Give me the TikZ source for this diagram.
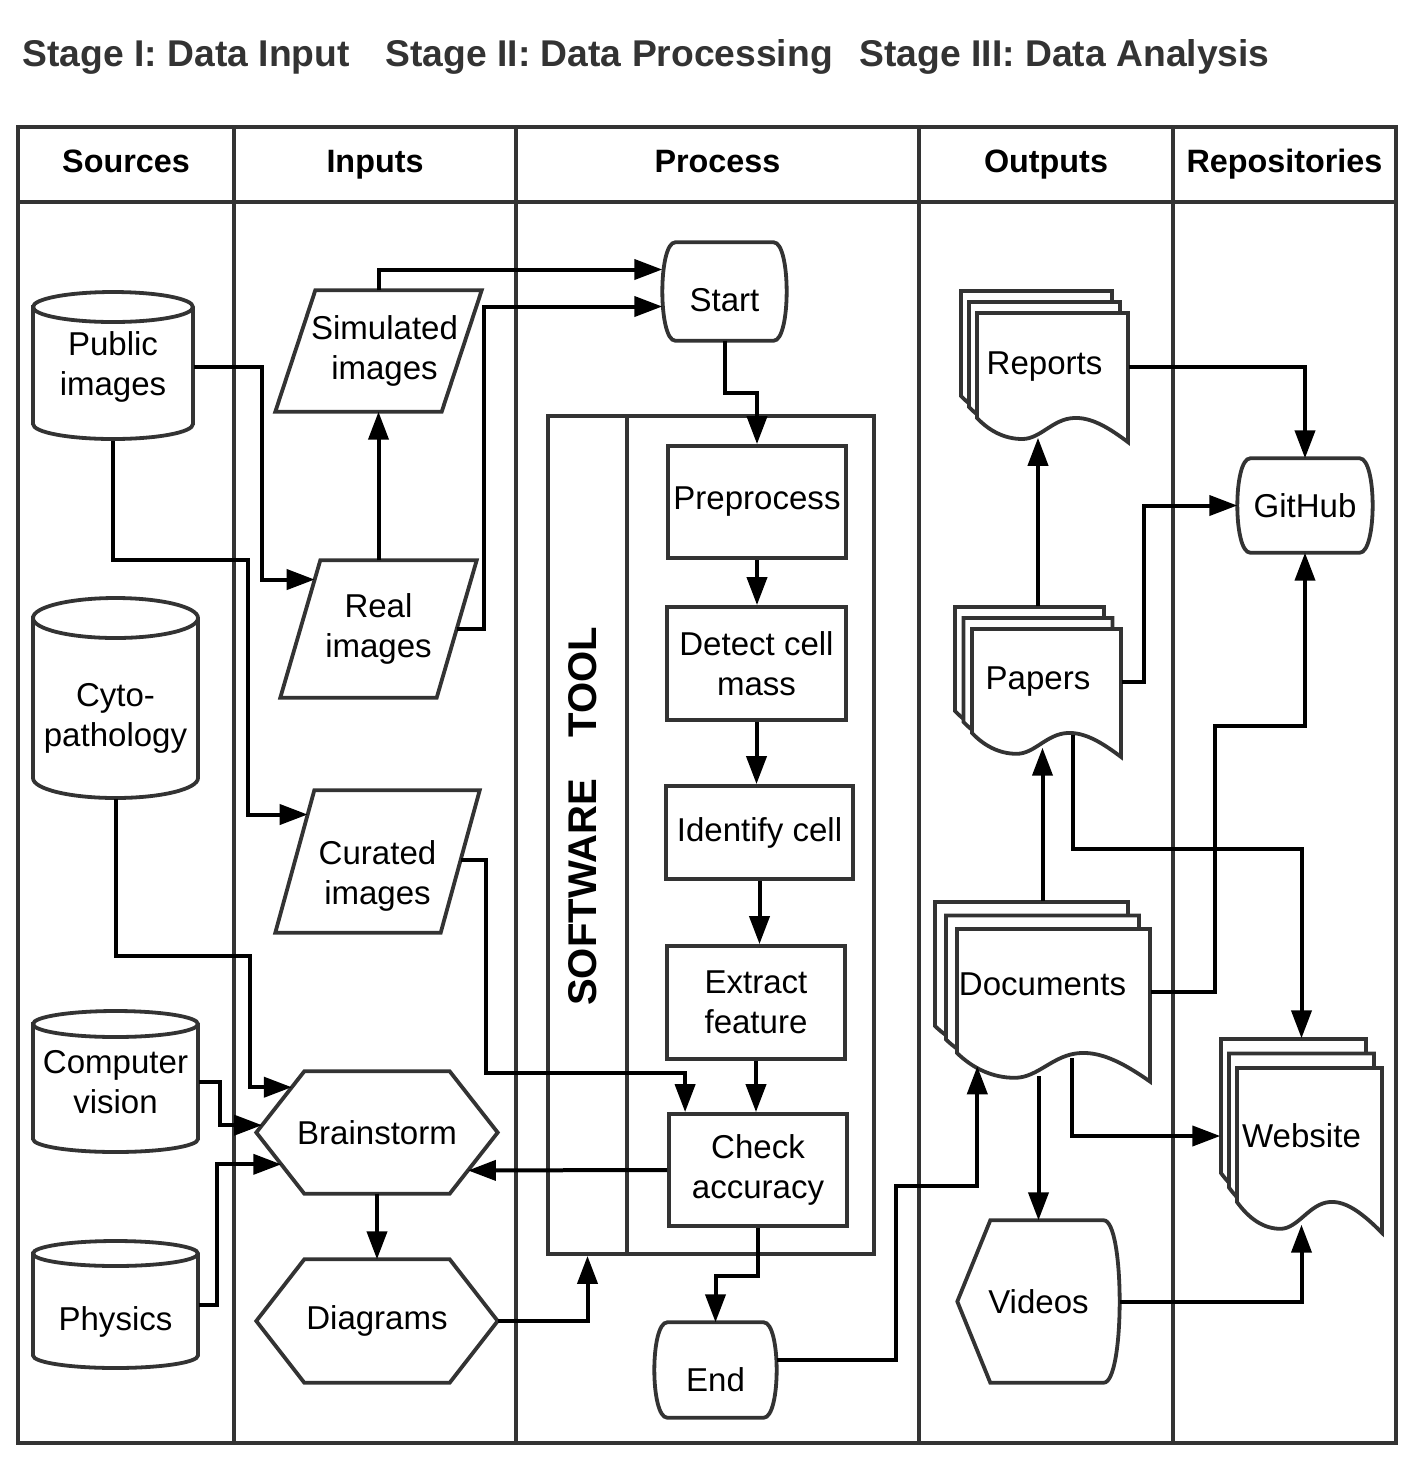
\documentclass[tikz,border=0pt]{standalone}
\usepackage{fontspec}
\setmainfont{Liberation Sans}
\usetikzlibrary{calc,arrows.meta}

\tikzset{
  outline/.style={draw=black!80, line width=0.38mm},
  lane/.style={draw=black!80, line width=0.34mm},
  txt/.style={inner sep=0pt, align=center, font=\fontsize{9.4}{11.4}\selectfont},
  box/.style={txt, outline, fill=white},
  arrow/.style={line width=0.4mm, -{Triangle[length=2.8mm,width=2mm]}},
  colhead/.style={anchor=base, inner sep=0pt, font=\fontsize{9.2}{11}\selectfont\bfseries},
  stage/.style={anchor=base west, inner sep=0pt, text=black!80, font=\fontsize{10.6}{12}\selectfont\bfseries},
  textdrop/.style={text height=#1, text depth=0pt},
}

% database drum: left x, top y, width, bottom y, cap radius
\newcommand{\drum}[5]{%
  \filldraw[outline, fill=white] (#1,{#2+#5}) -- (#1,{#4-#5})
    arc[start angle=180, end angle=360, x radius={#3*0.05mm}, y radius={#5*0.1mm}]
    -- ({#1+#3},{#2+#5})
    arc[start angle=0, end angle=180, x radius={#3*0.05mm}, y radius={#5*0.1mm}] -- cycle;
  \draw[outline] (#1,{#2+#5}) arc[start angle=180, end angle=360, x radius={#3*0.05mm}, y radius={#5*0.1mm}];}

% one sheet with wavy foot: top-left x, top-left y, width, side height
\newcommand{\docsheet}[4]{%
  \filldraw[outline, fill=white] (#1,#2) -- ++(#3,0) -- ++(0,{1.23*#4})
    .. controls ({#1+0.88*#3},{#2+1.1*#4}) and ({#1+0.76*#3},{#2+0.99*#4}) .. ({#1+0.64*#3},{#2+#4})
    .. controls ({#1+0.5*#3},{#2+1.01*#4}) and ({#1+0.42*#3},{#2+1.2*#4}) .. ({#1+0.3*#3},{#2+1.2*#4})
    .. controls ({#1+0.18*#3},{#2+1.2*#4}) and ({#1+0.08*#3},{#2+1.12*#4}) .. (#1,{#2+#4}) -- cycle;}

% three stacked sheets: front x, front y, width, side height, dx, dy
\newcommand{\docstack}[6]{%
  \docsheet{#1-2*#5}{#2-2*#6}{#3}{#4}
  \docsheet{#1-#5}{#2-#6}{#3}{#4}
  \docsheet{#1}{#2}{#3}{#4}}

% outlines drawn round named nodes
\newcommand{\slantshape}[2]{%
  \draw[outline] ([xshift=#2]#1.north west) -- (#1.north east)
    -- ([xshift=-#2]#1.south east) -- (#1.south west) -- cycle;}
\newcommand{\hexshape}[1]{%
  \draw[outline] (#1.west) -- ([xshift=4.8mm]#1.north west) -- ([xshift=-4.8mm]#1.north east)
    -- (#1.east) -- ([xshift=-4.8mm]#1.south east) -- ([xshift=4.8mm]#1.south west) -- cycle;}
\newcommand{\termshape}[1]{%
  \draw[outline] ([xshift=1.3mm]#1.north west) -- ([xshift=-1.3mm]#1.north east)
    .. controls ([xshift=0.43mm]#1.north east) and ([xshift=0.43mm]#1.south east) .. ([xshift=-1.3mm]#1.south east)
    -- ([xshift=1.3mm]#1.south west)
    .. controls ([xshift=-0.43mm]#1.south west) and ([xshift=-0.43mm]#1.north west) .. ([xshift=1.3mm]#1.north west) -- cycle;}
\newcommand{\screenshape}[1]{%
  \draw[outline] (#1.west) -- ([xshift=3.3mm]#1.north west) -- ([xshift=-1.6mm]#1.north east)
    .. controls ([xshift=0.53mm]#1.north east) and ([xshift=0.53mm]#1.south east) .. ([xshift=-1.6mm]#1.south east)
    -- ([xshift=3.3mm]#1.south west) -- cycle;}

\begin{document}
\begin{tikzpicture}[x=0.1mm, y=-0.1mm]
  \useasboundingbox (0,0) rectangle (1409,1467);

  % --- Stage titles ---
  \node[stage] (st1) at (22,66) {Stage I: Data Input};
  \node[stage] (st2) at (385,66) {Stage II: Data Processing};
  \node[stage] (st3) at (859,66) {Stage III: Data Analysis};

  % --- Frame and lanes ---
  \draw[lane] (18,127) rectangle (1396,1443);
  \draw[lane] (18,202) -- (1396,202);
  \foreach \x in {234,516,919,1173}
    \draw[lane] (\x,127) -- (\x,1443);

  % --- Column heads ---
  \node[colhead] (hsrc) at (126,172) {Sources};
  \node[colhead] (hinp) at (375,172) {Inputs};
  \node[colhead] (hpro) at (717.5,172) {Process};
  \node[colhead] (hout) at (1046,172) {Outputs};
  \node[colhead] (hrep) at (1284.5,172) {Repositories};

  % --- Sources ---
  \drum{33}{292}{160}{439}{15}
  \node[txt, minimum width=16mm, minimum height=14.7mm] (pub) at (113,367) {Public\\images};
  \drum{33}{598}{165}{798}{20}
  \node[txt, minimum width=16.5mm, minimum height=16mm] (cyto) at (115.5,718) {Cyto-\\pathology};
  \drum{33}{1011}{165}{1152}{13}
  \node[txt, minimum width=16.5mm, minimum height=14.1mm] (cv) at (115.5,1082) {Computer\\vision};
  \drum{33}{1241}{165}{1368}{12.5}
  \node[txt, minimum width=16.5mm, minimum height=9.2mm] (phys) at (115.5,1322) {Physics};

  % --- Inputs ---
  \node[txt, minimum width=20.5mm, minimum height=12mm] (sim) at (378.5,351) {};
  \node[txt] (simlbl) at ($(sim)+(6,0)$) {Simulated\\images};
  \slantshape{sim}{4mm}
  \node[txt, minimum width=19.5mm, minimum height=13.6mm] (real) at (378.5,629) {Real\\images};
  \slantshape{real}{4mm}
  \node[txt, minimum width=20.3mm, minimum height=14.1mm] (cur) at (377.5,861.5) {};
  \node[txt] (curlbl) at ($(cur)+(0,14)$) {Curated\\images};
  \slantshape{cur}{3.9mm}
  \node[txt, minimum width=24mm, minimum height=12.1mm] (brain) at (377,1132.5) {Brainstorm};
  \hexshape{brain}
  \node[txt, minimum width=24mm, minimum height=12.2mm] (diag) at (377,1321) {Diagrams};
  \hexshape{diag}

  % --- Process ---
  \node[txt, outline, minimum width=7.9mm, minimum height=83.8mm] (swlane) at (587.5,835) {};
  \node[txt, outline, minimum width=32.6mm, minimum height=83.8mm] (swtool) at (711,835) {};
  \node[rotate=90, inner sep=0pt, font=\fontsize{11.4}{13}\selectfont\bfseries] (swname) at (583,816.5) {SOFTWARE\hspace{4.1mm}TOOL};
  \node[txt, textdrop=4mm, minimum width=12.3mm, minimum height=9.7mm] (start) at (724.5,291.5) {Start};
  \termshape{start}
  \node[box, minimum width=17.8mm, minimum height=11.2mm] (pre) at (757,502) {Preprocess};
  \node[box, minimum width=17.9mm, minimum height=11.3mm] (det) at (756.5,663.5) {Detect cell\\mass};
  \node[box, minimum width=18.7mm, minimum height=9.3mm] (ident) at (759.5,832.5) {Identify cell};
  \node[box, minimum width=17.8mm, minimum height=11.3mm] (ext) at (756,1002.5) {Extract\\feature};
  \node[box, minimum width=17.8mm, minimum height=11.2mm] (check) at (758,1170) {Check\\accuracy};
  \node[txt, textdrop=4.2mm, minimum width=12.1mm, minimum height=9.4mm] (end) at (715.5,1370) {End};
  \termshape{end}

  % --- Outputs ---
  \docstack{977}{313}{151}{105}{8}{11}
  \node[txt, minimum width=16.7mm, minimum height=15.1mm] (rep) at (1044.5,366.6) {Reports};
  \docstack{972}{629}{149}{104}{8.5}{11}
  \node[txt, minimum width=16.6mm, minimum height=15mm] (pap) at (1038,682) {Papers};
  \docstack{957}{929}{193}{124}{11}{13.5}
  \node[txt, text height=2.4mm, text depth=1.6mm, minimum width=21.5mm, minimum height=17.95mm] (docs) at (1042.5,991.8) {Documents};
  \node[txt, minimum width=16.1mm, minimum height=16.1mm] (vid) at (1038.5,1301.5) {Videos};
  \screenshape{vid}

  % --- Repositories ---
  \node[txt, minimum width=13.4mm, minimum height=9.3mm] (git) at (1305,505.5) {GitHub};
  \termshape{git}
  \docstack{1237}{1068}{145}{134}{8}{14.5}
  \node[txt, minimum width=16.1mm, minimum height=19.4mm] (web) at (1301.5,1136) {Website};

  % --- Sources to inputs ---
  \draw[arrow] (pub.east) -- ++(68,0) |- ($([xshift=4mm]real.north west)!0.14!(real.south west)$);
  \draw[arrow] (pub.south) -- ++(0,119) -- ++(135,0) |- ($([xshift=3.9mm]cur.north west)!0.17!(cur.south west)$);
  \draw[arrow] (cyto.south) -- ++(0,157) -- ++(134,0) |- ($([xshift=4.8mm]brain.north west)!0.26!(brain.west)$);
  \draw[arrow] (cv.east) -- ++(21,0) |- ($([xshift=4.8mm]brain.north west)!0.88!(brain.west)$);
  \draw[arrow] ($(phys.east)+(0,-17)$) -- ++(18,0) |- ($(brain.west)!0.52!([xshift=4.8mm]brain.south west)$);

  % --- Inputs to process ---
  \draw[arrow] (real.north) -- (sim.south);
  \draw[arrow] (sim.north) |- ($(start.west)+(0,-22)$);
  \draw[arrow] ($(real.north east)!0.5!([xshift=-4mm]real.south east)$) -- ++(27,0) |- ($(start.west)+(0,15)$);
  \draw[arrow] ($(cur.north east)!0.49!([xshift=-3.9mm]cur.south east)$) -- ++(25,0) -- ++(0,213) -| ($(check.north west)+(18,0)$);

  % --- Software tool chain ---
  \draw[arrow] (start.south) -- ++(0,52) -| (pre.north);
  \draw[arrow] (pre.south) -- (pre.south |- det.north);
  \draw[arrow] (det.south) -- (det.south |- ident.north);
  \draw[arrow] (ident.south) -- (ident.south |- ext.north);
  \draw[arrow] (ext.south) -- (ext.south |- check.north);
  \draw[arrow] (check.west) -- ($(brain.east)!0.62!([xshift=-4.8mm]brain.south east)$);
  \draw[arrow] (check.south) -- ++(0,48) -| (end.north);
  \draw[arrow] (brain.south) -- (diag.north);
  \draw[arrow] (diag.east) -| (swlane.south);

  % --- Outputs ---
  \draw[arrow] ($(end.east)+(0,-10)$) -- ++(119,0) -- ++(0,-174) -| ($(docs.south west)+(43,-16)$);
  \draw[arrow] (docs.north) -- ($(docs.north |- pap.south)+(0,-10)$);
  \draw[arrow] (pap.north) -- ($(pap.north |- rep.south)+(0,-5)$);
  \draw[arrow] ($(vid.north |- docs.south)+(0,-6)$) -- (vid.north);
  \draw[arrow] ($(docs.south west)+(138,-24)$) |- (web.west);

  % --- Repositories ---
  \draw[arrow] (rep.east) -| (git.north);
  \draw[arrow] (pap.east) -- ++(22,0) |- (git.west);
  \draw[arrow] ($(pap.south west)+(119,-23)$) -- ++(0,114) -| (web.north);
  \draw[arrow] (docs.east) -- ++(64,0) -- ++(0,-266) -| (git.south);
  \draw[arrow] (vid.east) -| ($(web.south)+(0,-9)$);

\end{tikzpicture}
\end{document}
